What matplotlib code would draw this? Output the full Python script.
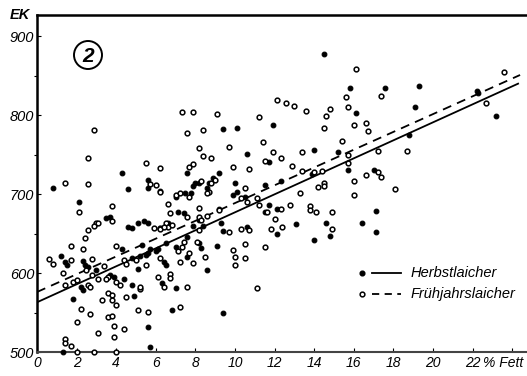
import matplotlib
matplotlib.use("Agg")
import matplotlib.pyplot as plt
from matplotlib.patches import Circle
from matplotlib.lines import Line2D

plt.rcParams['font.family'] = ['Liberation Sans', 'DejaVu Sans']

# Herbstlaicher (filled dots): fat % , EK
herbst_x = [14.5, 15.8, 17.6, 19.3, 22.2, 22.3, 16.1, 19.1, 23.2, 9.4, 10.1, 11.9, 10.6, 14.0, 15.2,
            15.7, 11.7, 18.8, 13.9, 17.0, 12.3, 11.5, 4.3, 7.6, 9.2, 0.8, 5.6, 8.0, 7.9, 10.0,
            17.1, 12.1, 11.5, 13.1, 14.6, 14.8, 16.4, 17.1, 12.1, 14.0, 5.6, 4.6, 7.8, 2.1, 7.1,
            7.4, 3.5, 3.7, 5.4, 5.6, 4.6, 4.8, 8.2, 6.2, 7.0, 7.5, 8.2, 9.9, 10.1, 10.5,
            8.7, 8.9, 8.6, 11.7, 9.3, 9.2,
            1.2, 1.4, 1.5, 2.3, 2.4, 2.6, 3.0, 2.3, 2.2, 1.8, 3.7, 4.9, 4.4, 3.9, 4.8,
            4.3, 4.8, 5.1, 5.2, 5.5, 5.6, 5.3, 5.7, 5.1, 5.6, 5.7, 6.4, 6.5, 6.3, 6.0,
            6.1, 6.6, 6.5, 7.0, 6.8, 7.0, 7.6, 7.6, 8.2, 8.3, 8.6, 8.4, 7.9, 9.1, 9.4,
            9.4, 10.6, 1.3]
herbst_y = [877, 834, 835, 837, 831, 828, 803, 810, 799, 782, 784, 787, 751, 756, 753,
            730, 741, 775, 726, 730, 717, 711, 727, 727, 727, 708, 718, 714, 710, 714,
            679, 681, 677, 662, 663, 647, 663, 652, 650, 642, 708, 706, 701, 690, 678,
            676, 670, 671, 666, 664, 658, 657, 667, 704, 697, 702, 714, 699, 703, 697,
            714, 720, 708, 686, 664, 681,
            622, 614, 610, 615, 610, 608, 604, 578, 582, 567, 598, 571, 592, 595, 585,
            631, 619, 605, 622, 623, 626, 635, 631, 663, 532, 506, 614, 610, 587, 628,
            631, 663, 638, 581, 553, 633, 646, 620, 638, 632, 604, 660, 660, 634, 549,
            653, 658, 500]

# Frühjahrslaicher (open circles): fat %, EK
fruehjahr_x = [7.3, 7.9, 9.1, 11.2, 2.9, 7.6, 8.4, 8.2, 9.7, 11.4, 2.6, 8.4, 8.8, 5.5, 7.7,
               7.9, 9.9, 6.2, 10.7, 1.4, 2.6, 5.7, 6.0, 8.3, 8.8, 9.0, 10.5, 16.1, 12.1, 12.6,
               13.0, 13.6, 15.6, 15.7, 14.8, 14.6, 17.4, 22.7, 23.6, 14.5, 16.0, 16.6, 16.7, 15.4, 11.9,
               13.4, 15.7, 15.7, 12.3, 11.5, 12.9, 17.2, 18.7, 13.4, 14.0, 14.4, 17.2, 17.4, 16.6, 16.0,
               14.5, 14.5, 18.1, 16.0, 13.3, 14.2, 12.8, 13.8, 13.8, 14.1, 14.9, 12.3, 12.0, 14.9, 11.8,
               12.4, 11.5, 6.2, 7.7, 7.0, 7.2, 2.1, 3.8, 6.6, 7.6, 6.7, 8.2, 3.8, 3.0, 2.9,
               6.5, 6.6, 6.8, 5.9, 6.2, 8.7, 9.2, 10.6, 11.1, 11.2, 10.3, 11.6, 8.6, 8.2,
               0.6, 0.8, 1.7, 1.7, 1.3, 2.3, 2.4, 2.6, 3.1, 2.5, 2.8, 2.8, 3.1, 3.4, 1.4,
               1.8, 2.0, 2.6, 2.7, 2.0, 2.2, 2.7, 3.1, 3.3, 3.6, 3.5, 3.6, 3.8, 3.8, 4.0,
               3.6, 3.8, 3.9, 3.9, 4.4, 4.5, 4.0, 4.2, 5.2, 4.0, 4.4, 4.5, 5.0, 5.5, 5.2,
               5.1, 5.6, 6.2, 6.1, 6.4, 6.2, 6.4, 6.7, 6.7, 7.2, 7.2, 7.1, 7.3, 7.4, 7.6,
               7.7, 7.9, 8.1, 8.5, 8.2, 8.6, 8.3, 9.7, 9.9, 10.0, 10.0, 10.5, 10.5, 10.3, 10.7,
               11.1, 1.4, 1.4, 1.7, 2.0, 2.9, 4.0]
fruehjahr_y = [804, 804, 802, 798, 781, 777, 781, 758, 760, 766, 746, 748, 746, 740, 735,
               738, 734, 733, 732, 714, 713, 713, 711, 717, 714, 718, 708, 858, 819, 815,
               812, 805, 823, 811, 808, 799, 825, 815, 855, 784, 787, 790, 780, 767, 753,
               754, 750, 740, 746, 742, 736, 755, 755, 729, 728, 729, 728, 722, 724, 717,
               714, 710, 707, 699, 702, 709, 686, 685, 680, 677, 677, 681, 668, 656, 656,
               658, 633, 703, 696, 699, 702, 678, 685, 687, 671, 676, 682, 666, 664, 660,
               664, 658, 661, 657, 657, 703, 680, 690, 695, 686, 695, 678, 702, 671,
               618, 611, 617, 634, 600, 631, 644, 654, 663, 604, 618, 597, 592, 609, 585,
               589, 591, 585, 582, 538, 554, 548, 524, 566, 595, 592, 575, 572, 566, 560,
               544, 546, 533, 519, 529, 570, 589, 585, 580, 634, 617, 611, 617, 610, 582,
               553, 551, 619, 595, 582, 656, 658, 599, 594, 557, 614, 628, 633, 639, 582,
               625, 613, 639, 620, 654, 672, 667, 652, 629, 621, 610, 619, 637, 656, 655,
               581, 516, 511, 508, 500, 500, 500]

# regression lines (end points)
herbst_fit_x = [0.0, 24.3]
herbst_fit_y = [563, 840]
fruehjahr_fit_x = [0.0, 24.4]
fruehjahr_fit_y = [576, 851]

x_ticks = [0, 2, 4, 6, 8, 10, 12, 14, 16, 18, 20, 22, 24]
x_ticklabels = ['0', '2', '4', '6', '8', '10', '12', '14', '16', '18', '20', '22', '']
y_ticks = [500, 600, 700, 800, 900]

W, H = 527, 376
fig = plt.figure(figsize=(W / 100, H / 100), dpi=100)
ax = fig.add_axes([37 / W, 1 - 352 / H, 1 - 37 / W, (352 - 15) / H])
ax.set_xlim(0, 24.75)
ax.set_ylim(500, 927)

ms = 3.4
ax.plot(herbst_x, herbst_y, 'o', ms=ms, mfc='black', mec='black', mew=0.8, clip_on=False, zorder=3)
ax.plot(fruehjahr_x, fruehjahr_y, 'o', ms=ms, mfc='white', mec='black', mew=1.1, clip_on=False, zorder=3)
ax.plot(herbst_fit_x, herbst_fit_y, '-', color='black', lw=1.3, zorder=2)
ax.plot(fruehjahr_fit_x, fruehjahr_fit_y, '--', color='black', lw=1.3, dashes=(5, 3.5), zorder=2)

ax.spines['right'].set_visible(False)
ax.spines['top'].set_linewidth(1.8)
ax.spines['left'].set_linewidth(1.8)
ax.spines['bottom'].set_linewidth(1.5)
ax.spines['bottom'].set_color('#444444')

ax.set_xticks(x_ticks)
ax.set_xticklabels(x_ticklabels, fontsize=10, style='italic')
ax.set_yticks(y_ticks)
ax.set_yticklabels([str(v) for v in y_ticks], fontsize=10.5, style='italic')
ax.set_yticks([550, 650, 750, 850], minor=True)
ax.tick_params(axis='x', direction='in', length=3, width=0.8, pad=3)
ax.tick_params(axis='y', direction='in', length=3, width=0.8, pad=2)
ax.tick_params(axis='y', which='minor', direction='out', length=2, width=0.8)

fig.text(20 / W, 1 - 15 / H, 'EK', fontsize=10.5, style='italic', fontweight='bold',
         ha='center', va='center')
fig.text(503 / W, 1 - 363 / H, '% Fett', fontsize=10, style='italic', ha='center', va='center')

# panel number in circle
circ = Circle((88, H - 55), 14, transform=None, fill=False, lw=1.4, ec='black')
fig.patches.append(circ)
fig.text(88 / W, 1 - 56 / H, '2', fontsize=15, style='italic', fontweight='bold',
         ha='center', va='center')

# legend
fig.add_artist(Line2D([362 / W], [1 - 273 / H], marker='o', ms=ms, mfc='black', mec='black',
                      transform=fig.transFigure))
fig.add_artist(Line2D([372 / W, 401 / W], [1 - 273 / H, 1 - 273 / H], color='black', lw=1.3,
                      transform=fig.transFigure))
fig.text(411 / W, 1 - 273 / H, 'Herbstlaicher', fontsize=10.5, style='italic', va='center')
fig.add_artist(Line2D([362 / W], [1 - 294 / H], marker='o', ms=ms, mfc='white', mec='black',
                      mew=1.1, transform=fig.transFigure))
fig.add_artist(Line2D([372 / W, 401 / W], [1 - 294 / H, 1 - 294 / H], color='black', lw=1.3,
                      dashes=(4, 3), transform=fig.transFigure))
fig.text(411 / W, 1 - 294 / H, 'Frühjahrslaicher', fontsize=10.5, style='italic', va='center')

fig.savefig('out.png', dpi=100)
